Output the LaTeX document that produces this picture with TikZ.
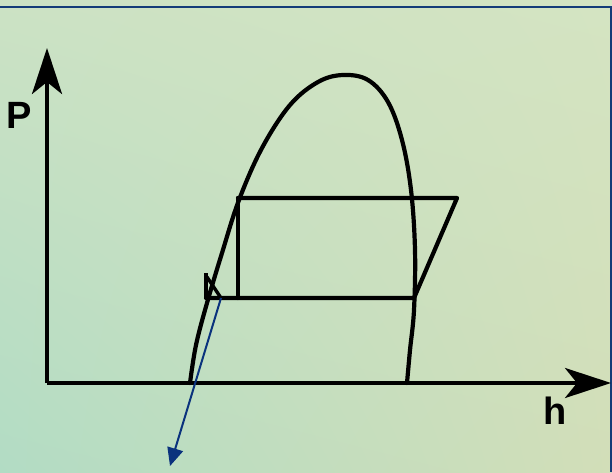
\documentclass[tikz,border=0pt]{standalone}
\usepackage{fontspec}
\setsansfont{Liberation Sans}
\usetikzlibrary{arrows.meta,shadings}
\definecolor{bgtop}{RGB}{204,226,196}
\definecolor{bgtopr}{RGB}{212,228,194}
\definecolor{bgbotl}{RGB}{178,220,196}
\definecolor{bgbotr}{RGB}{210,222,184}
\definecolor{frameblue}{RGB}{20,60,120}
\definecolor{arrowblue}{RGB}{10,50,125}
\tikzset{
  curve/.style={line width=4.2pt,line join=round,line cap=round},
  axis/.style={line width=4pt,-{Stealth[length=46pt,width=30pt,inset=12pt]}},
  axislabel/.style={font=\sffamily\bfseries\fontsize{38}{38}\selectfont,inner sep=0pt},
  pointer/.style={arrowblue,line width=2pt,-{Triangle[length=18pt,width=16pt]}}
}
\begin{document}
\begin{tikzpicture}[x=1pt,y=-1pt]
  % background
  \shade[upper left=bgtop,upper right=bgtopr,lower left=bgbotl,lower right=bgbotr] (0,0) rectangle (612,472);
  \useasboundingbox (0,0) rectangle (612,472);
  \draw[frameblue,line width=1.6pt] (0,7) -- (611,7) -- (611,472);
  % axes
  \coordinate (O) at (47,383);
  \draw[axis] (O) -- (47,48);
  \draw[axis] (O) -- (611,383);
  \node[axislabel] (P) at (19,115) {P};
  \node[axislabel] (h) at (555,411) {h};
  % saturation dome
  \draw[curve] plot[smooth,tension=0.6] coordinates {(190,383) (196,345) (207,303) (222,253)
    (239,200) (262,148) (290,105) (318,82) (343,75) (368,80) (388,102) (402,140)
    (411,190) (415,250) (414,310) (410,350) (407,383)};
  % cycle
  \coordinate (A) at (238,198);
  \coordinate (B) at (457,198);
  \coordinate (C) at (414,298);
  \coordinate (D) at (238,298);
  \coordinate (E) at (206,298);
  \draw[curve] (A) -- (B) -- (C) -- (E);
  \draw[curve] (A) -- (D);
  % expansion mark
  \coordinate (V) at (206,273);
  \coordinate (X) at (221,298);
  \draw[curve,line cap=butt] (V) -- (E);
  \draw[curve,line width=3.4pt] (207,277) -- (X);
  % pointer
  \coordinate (T) at (170,466);
  \draw[pointer] (X) -- (T);
\end{tikzpicture}
\end{document}
